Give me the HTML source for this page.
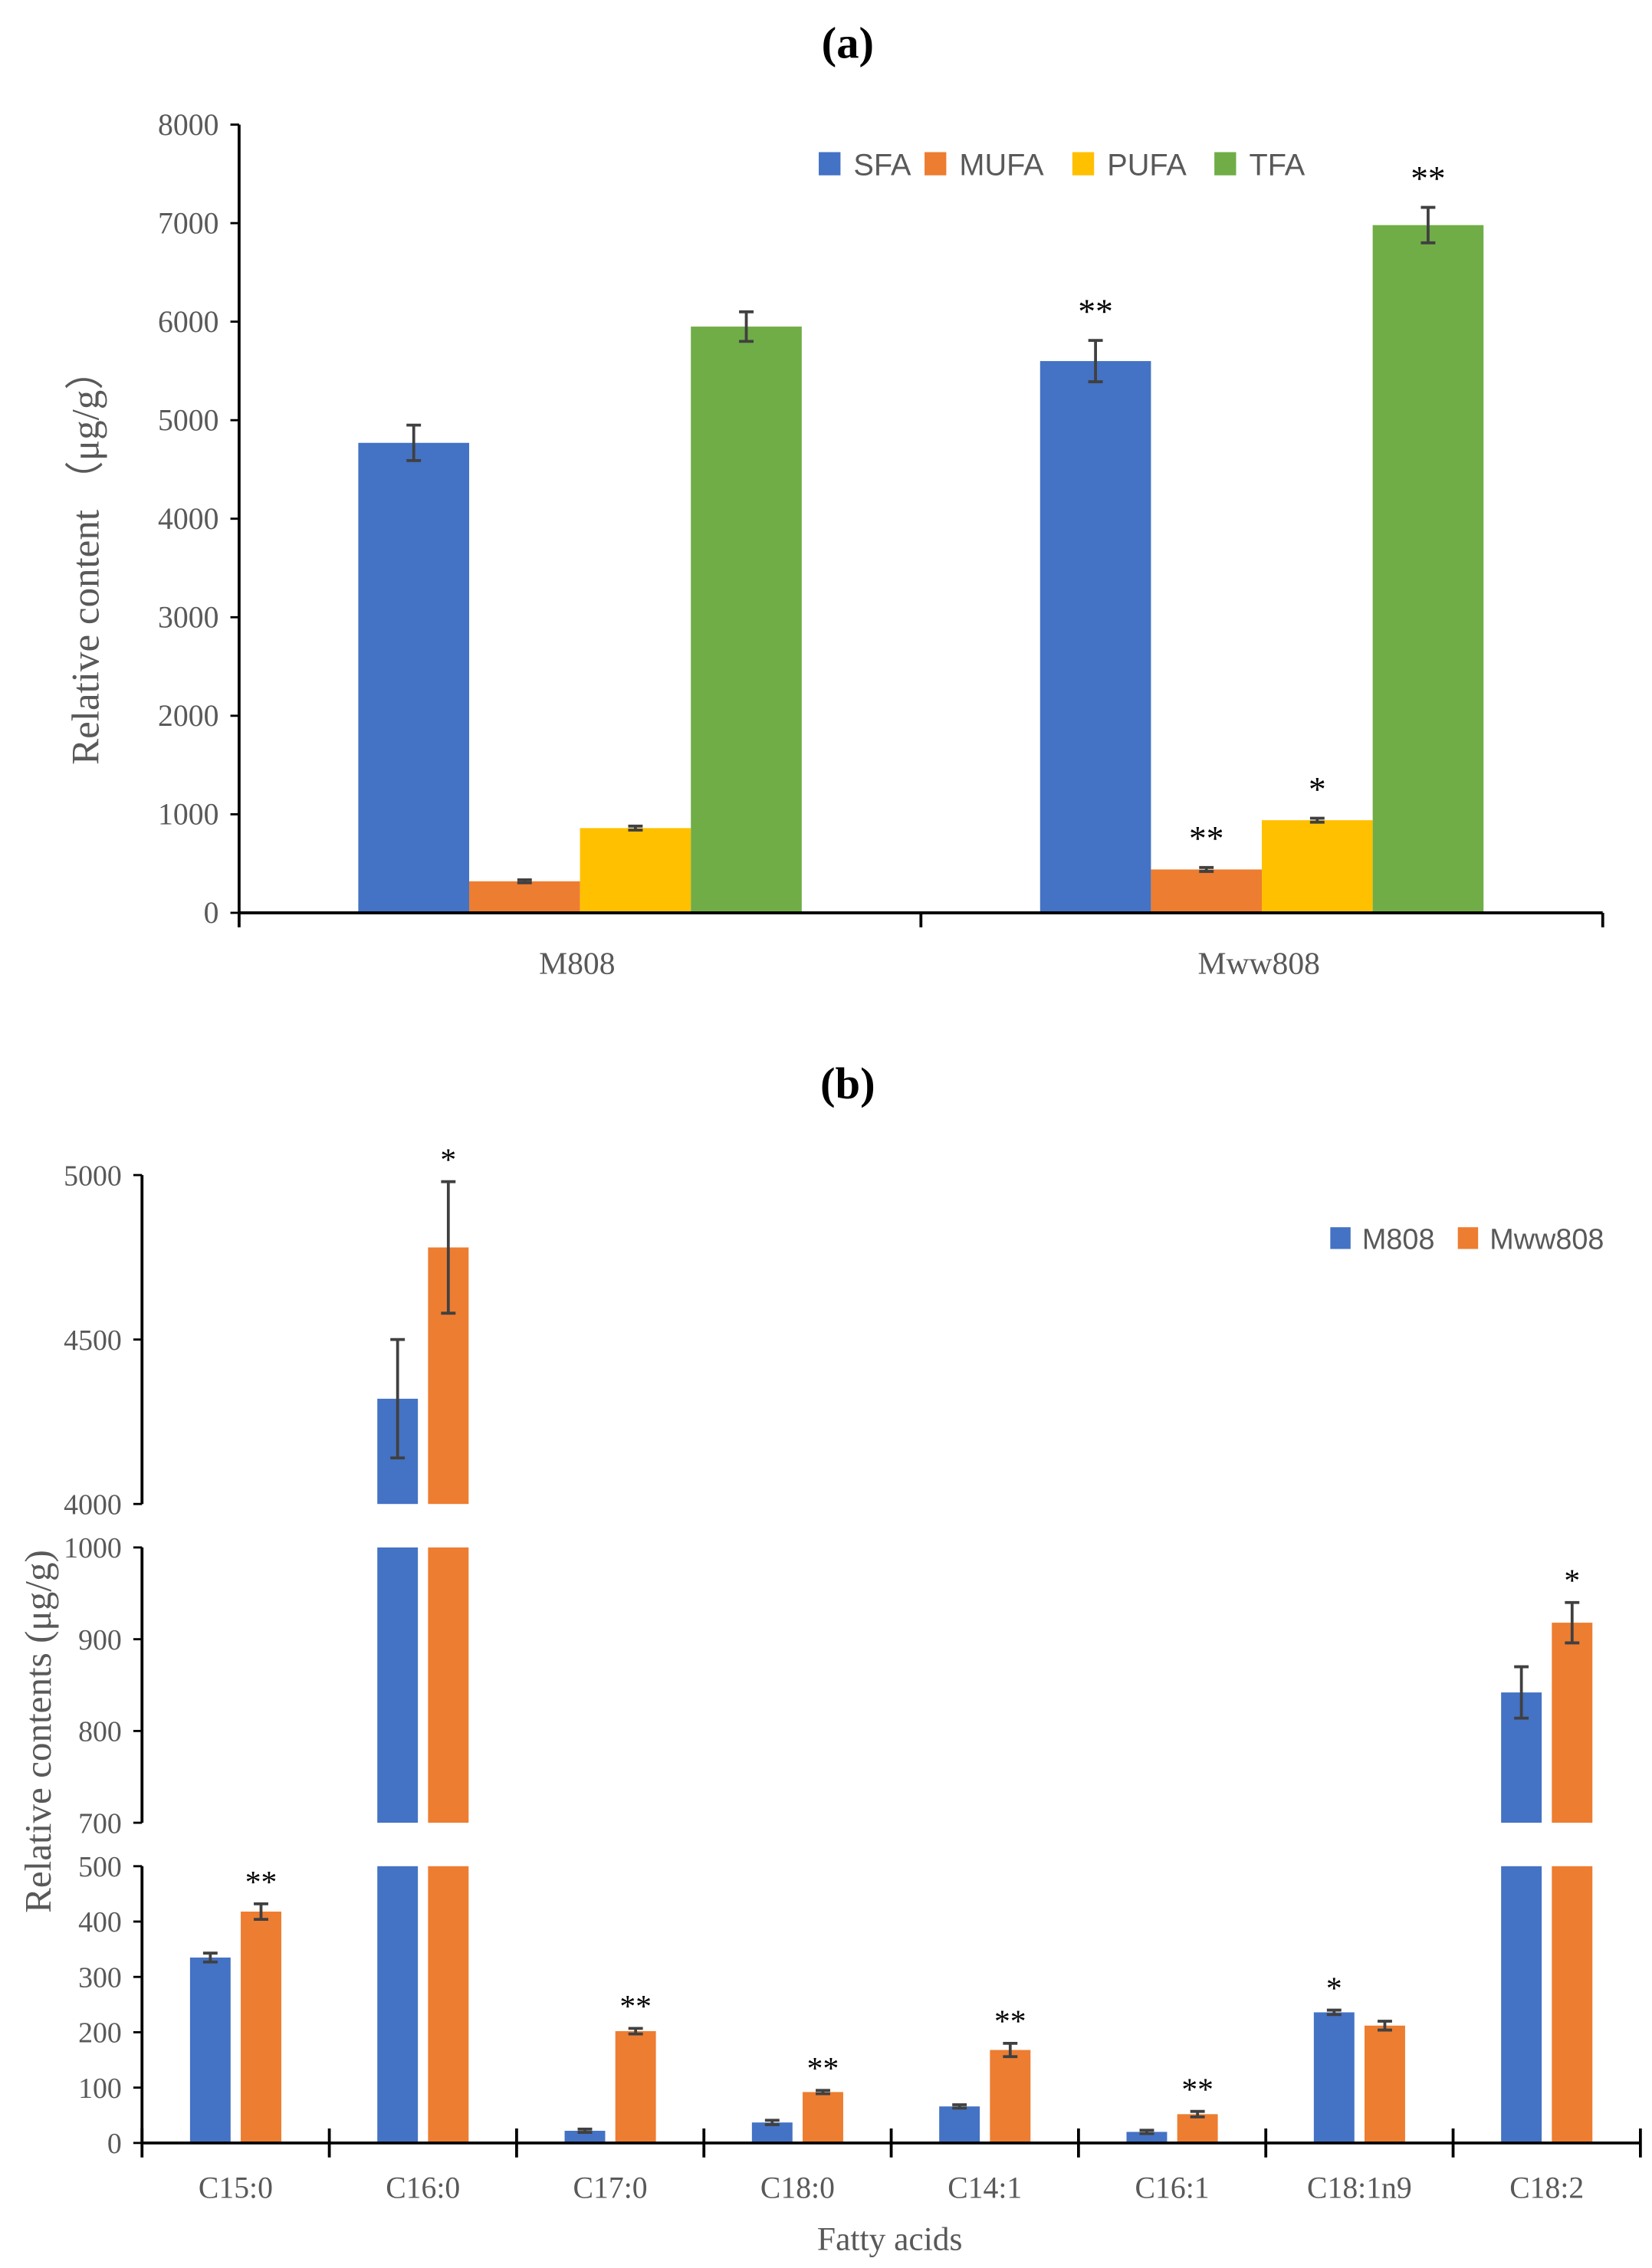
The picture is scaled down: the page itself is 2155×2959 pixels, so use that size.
<!DOCTYPE html>
<html><head><meta charset="utf-8"><style>
html,body{margin:0;padding:0;background:#fff}
svg{display:block}
text{font-family:"Liberation Serif",serif}
</style></head><body>
<svg id="chart" xmlns="http://www.w3.org/2000/svg" width="2155" height="2959" viewBox="0 0 1140 1565.3" preserveAspectRatio="none">
<g id="pa"></g>
<g id="pb"></g>
</svg>
<script>
// Panel a data
const aCategories = ["M808", "Mww808"];
const aSeriesNames = ["SFA", "MUFA", "PUFA", "TFA"];
const aSFA = [4770, 5600];
const aMUFA = [320, 440];
const aPUFA = [860, 940];
const aTFA = [5950, 6980];
const aSFAerr = [180, 210];
const aMUFAerr = [15, 20];
const aPUFAerr = [20, 20];
const aTFAerr = [150, 180];
const aSFAsig = ["", "**"];
const aMUFAsig = ["", "**"];
const aPUFAsig = ["", "*"];
const aTFAsig = ["", "**"];
const aTicks = [0, 1000, 2000, 3000, 4000, 5000, 6000, 7000, 8000];

// Panel b data
const bCategories = ["C15:0","C16:0","C17:0","C18:0","C14:1","C16:1","C18:1n9","C18:2"];
const bM808 = [335, 4320, 22, 37, 66, 20, 236, 842];
const bMww808 = [418, 4780, 202, 92, 168, 52, 212, 918];
const bM808err = [8, 180, 3, 4, 3, 3, 4, 28];
const bMww808err = [14, 200, 5, 3, 12, 5, 8, 22];
const bM808sig = ["", "", "", "", "", "", "*", ""];
const bMww808sig = ["**", "*", "**", "**", "**", "**", "", "*"];
const bTicksLow = [0, 100, 200, 300, 400, 500];
const bTicksMid = [700, 800, 900, 1000];
const bTicksHigh = [4000, 4500, 5000];

const NS = "http://www.w3.org/2000/svg";
function mk(parent, tag, attrs, txt){
  const e = document.createElementNS(NS, tag);
  for (const k in attrs) e.setAttribute(k, attrs[k]);
  if (txt !== undefined) e.textContent = txt;
  parent.appendChild(e);
  return e;
}
const colors = ["#4472c4", "#ed7d31", "#ffc000", "#70ad47"];
const bColors = ["#4472c4", "#ed7d31"];
const gray = "#595959";

// ---------- Panel A ----------
const pa = document.getElementById("pa");
const aX0 = 165, aX1 = 1106, aY0 = 630, aY1 = 86;
const ay = v => aY0 - (v / 8000) * (aY0 - aY1);
const aGroupW = (aX1 - aX0) / aCategories.length;
const aBarW = 76.5;
let t = mk(pa, "text", {x: 585, y: 40, "text-anchor": "middle", "font-size": 31, "font-weight": "bold", fill: "#000"}, "(a)");


let l = mk(pa, "line", {x1: aX0, y1: aY1, x2: aX0, y2: aY0, stroke: "#000", "stroke-width": 2});


aTicks.forEach(v => {
  const tk = mk(pa, "line", {x1: aX0 - 6, y1: ay(v), x2: aX0, y2: ay(v), stroke: "#000", "stroke-width": 1.5});
  
  
  const tl = mk(pa, "text", {x: aX0 - 14, y: ay(v) + 7, "text-anchor": "end", "font-size": 21, fill: gray}, String(v));
  
  
});
const yla = mk(pa, "text", {transform: "translate(68,385) rotate(-90)", "text-anchor": "middle", "font-size": 27, fill: gray}, "Relative content （μg/g）");


const aVals = [aSFA, aMUFA, aPUFA, aTFA];
const aErrs = [aSFAerr, aMUFAerr, aPUFAerr, aTFAerr];
const aSigs = [aSFAsig, aMUFAsig, aPUFAsig, aTFAsig];
aCategories.forEach((c, i) => {
  const cx = aX0 + aGroupW * (i + 0.5);
  const start = cx - aBarW * 2;
  aVals.forEach((arr, s) => {
    const x = start + s * aBarW, v = arr[i];
    const r = mk(pa, "rect", {x: x, y: ay(v), width: aBarW, height: aY0 - ay(v), fill: colors[s]});
    
    
    const e = aErrs[s][i], mx = x + aBarW / 2;
    const eb = mk(pa, "path", {d: `M${mx},${ay(v+e)}V${ay(v-e)}M${mx-5},${ay(v+e)}H${mx+5}M${mx-5},${ay(v-e)}H${mx+5}`, stroke: "#404040", "stroke-width": 2, fill: "none"});
    
    
    if (aSigs[s][i]) {
      const st = mk(pa, "text", {x: mx, y: ay(v + e) - 12, "text-anchor": "middle", "font-size": 24, fill: "#000"}, aSigs[s][i]);
      
      
    }
  });
  const xl = mk(pa, "text", {x: cx - 2, y: 672, "text-anchor": "middle", "font-size": 22, fill: gray}, c);
  
  
});
l = mk(pa, "line", {x1: aX0, y1: aY0, x2: aX1, y2: aY0, stroke: "#000", "stroke-width": 2});


for (let i = 0; i <= aCategories.length; i++) {
  const x = aX0 + aGroupW * i;
  const tk = mk(pa, "line", {x1: x, y1: aY0, x2: x, y2: aY0 + 10, stroke: "#000", "stroke-width": 2});
  
  
}
let lx = 565;
aSeriesNames.forEach((n, s) => {
  const g = mk(pa, "g", {});
  
  
  mk(g, "rect", {x: lx, y: 105, width: 15, height: 16, fill: colors[s]});
  mk(g, "text", {x: lx + 24, y: 121, "font-size": 21, fill: gray, style: 'font-family:"Liberation Sans",sans-serif'}, n);
  lx += [73, 102, 98, 0][s];
});

// ---------- Panel B ----------
const pb = document.getElementById("pb");
t = mk(pb, "text", {x: 585, y: 758, "text-anchor": "middle", "font-size": 31, "font-weight": "bold", fill: "#000"}, "(b)");


const bX0 = 98, bX1 = 1132;
const segs = [
  {min: 0, max: 500, yb: 1479, yt: 1288, ticks: bTicksLow},
  {min: 700, max: 1000, yb: 1258, yt: 1068, ticks: bTicksMid},
  {min: 4000, max: 5000, yb: 1038, yt: 811, ticks: bTicksHigh}
];
segs.forEach(sg => {
  sg.y = v => sg.yb - (v - sg.min) / (sg.max - sg.min) * (sg.yb - sg.yt);
  const ax = mk(pb, "line", {x1: bX0, y1: sg.yt, x2: bX0, y2: sg.yb, stroke: "#000", "stroke-width": 2});
  
  
  sg.ticks.forEach(v => {
    const tk = mk(pb, "line", {x1: bX0 - 6, y1: sg.y(v), x2: bX0, y2: sg.y(v), stroke: "#000", "stroke-width": 1.5});
    
    
    const tl = mk(pb, "text", {x: bX0 - 14, y: sg.y(v) + 7, "text-anchor": "end", "font-size": 20, fill: gray}, String(v));
    
    
  });
});
const ylb = mk(pb, "text", {transform: "translate(35,1195) rotate(-90)", "text-anchor": "middle", "font-size": 26, fill: gray}, "Relative contents (μg/g)");


const bW = (bX1 - bX0) / bCategories.length, bBar = 28, bGap = 7;
const bVals = [bM808, bMww808], bErrs = [bM808err, bMww808err], bSigs = [bM808sig, bMww808sig];
const bNames = ["m808", "mww808"];
bCategories.forEach((c, i) => {
  const cx = bX0 + bW * (i + 0.5);
  bVals.forEach((arr, s) => {
    const x = s === 0 ? cx - bGap / 2 - bBar : cx + bGap / 2;
    const v = arr[i];
    segs.forEach(sg => {
      if (v <= sg.min) return;
      const top = Math.min(v, sg.max);
      const r = mk(pb, "rect", {x: x, y: sg.y(top), width: bBar, height: sg.yb - sg.y(top), fill: bColors[s]});
      
      
      if (v <= sg.max) {
        const e = bErrs[s][i], mx = x + bBar / 2;
        const eb = mk(pb, "path", {d: `M${mx},${sg.y(v+e)}V${sg.y(Math.max(v-e, sg.min))}M${mx-5},${sg.y(v+e)}H${mx+5}M${mx-5},${sg.y(Math.max(v-e, sg.min))}H${mx+5}`, stroke: "#404040", "stroke-width": 2, fill: "none"});
        
        
        if (bSigs[s][i]) {
          const st = mk(pb, "text", {x: mx, y: sg.y(v + e) - 8, "text-anchor": "middle", "font-size": 22, fill: "#000"}, bSigs[s][i]);
          
          
        }
      }
    });
  });
  const xl = mk(pb, "text", {x: cx, y: 1517, "text-anchor": "middle", "font-size": 21, fill: gray}, c);
  
  
});
l = mk(pb, "line", {x1: bX0, y1: 1479, x2: bX1, y2: 1479, stroke: "#000", "stroke-width": 2});


for (let i = 0; i <= bCategories.length; i++) {
  const x = bX0 + bW * i;
  const tk = mk(pb, "line", {x1: x, y1: 1469, x2: x, y2: 1489, stroke: "#000", "stroke-width": 2});
  
  
}
const xtb = mk(pb, "text", {x: 614, y: 1553, "text-anchor": "middle", "font-size": 23, fill: gray}, "Fatty acids");


[["M808", 918], ["Mww808", 1006]].forEach((p, s) => {
  const g = mk(pb, "g", {});
  
  
  mk(g, "rect", {x: p[1], y: 847, width: 14, height: 15, fill: bColors[s]});
  mk(g, "text", {x: p[1] + 22, y: 862, "font-size": 20, fill: gray, style: 'font-family:"Liberation Sans",sans-serif'}, p[0]);
});
</script>
</body></html>
